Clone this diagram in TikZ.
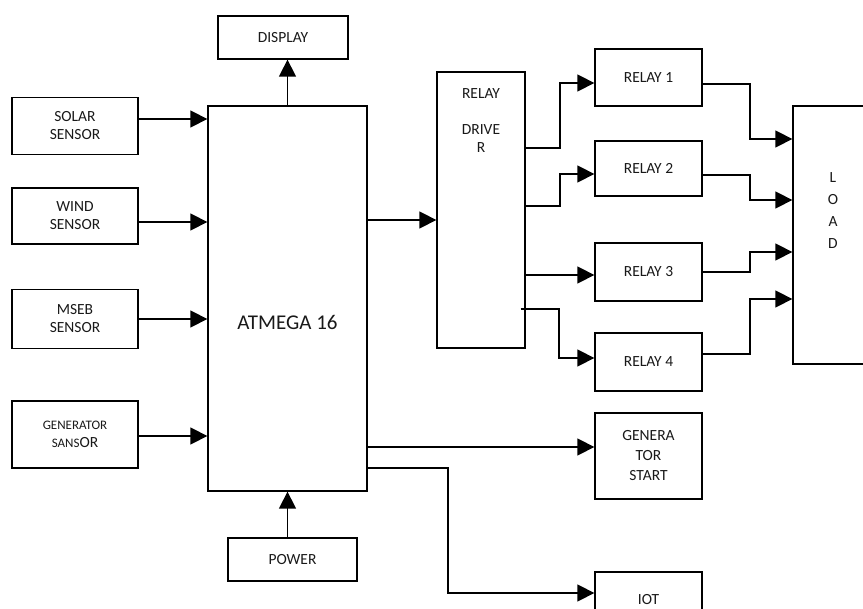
\documentclass[tikz,border=0pt]{standalone}
\usepackage{fontspec}
\setmainfont{Carlito}
\usepackage{tikz}
\usetikzlibrary{arrows.meta,positioning}
\newcommand{\blkfont}{\fontsize{15.5}{18}\selectfont}
\newcommand{\tinyblk}{\fontsize{13}{15}\selectfont}

\begin{document}
\begin{tikzpicture}[x=1pt, y=-1pt,
  blk/.style={draw, line width=1.3pt, align=center, font=\blkfont, inner sep=2pt, text=black!90},
  sens/.style={blk, minimum width=126pt, minimum height=57pt},
  rly/.style={blk, minimum width=107pt, minimum height=57pt},
  ar/.style={-{Triangle[length=17pt,width=17pt]}, line width=1.4pt}]
  \useasboundingbox (0,0) rectangle (863,609);
  % input sensors
  \node[sens] (solar) at (75,126) {SOLAR\\SENSOR};
  \node[sens, minimum height=56pt] (wind) at (75,216) {WIND\\SENSOR};
  \node[sens, minimum height=59pt] (mseb) at (75,319) {MSEB\\SENSOR};
  \node[sens, minimum height=67pt] (gens) at (75,434.5) {{\tinyblk GENERATOR}\\{\tinyblk SANS}OR};
  % controller
  \node[blk, minimum width=159pt, minimum height=385pt,
    label={[yshift=-24pt, font=\fontsize{21}{24}\selectfont, text=black!90]center:ATMEGA 16}] (atm) at (287.5,298.5) {};
  \node[blk, minimum width=130pt, minimum height=43pt] (disp) at (283,37.5) {DISPLAY};
  \node[blk, minimum width=129pt, minimum height=43pt] (pow) at (292.5,559.5) {POWER};
  % relay stage
  \node[blk, minimum width=88pt, minimum height=276pt,
    label={[anchor=north, yshift=-14pt, align=center, font=\blkfont, text=black!90]north:RELAY\\[18pt]DRIVE\\R}] (drv) at (481,210) {};
  \node[rly] (r1) at (648.5,77.5) {RELAY 1};
  \node[rly, minimum height=55pt] (r2) at (648.5,168.5) {RELAY 2};
  \node[rly, minimum height=58pt] (r3) at (648.5,272) {RELAY 3};
  \node[rly, minimum height=58pt] (r4) at (648.5,362) {RELAY 4};
  \node[blk, minimum width=100pt, minimum height=258pt,
    label={[xshift=-10pt, yshift=24pt, align=center, font=\blkfont, text=black!90]center:L\\[4pt]O\\[4pt]A\\[4pt]D}] (load) at (843,235) {};
  \node[rly, minimum height=86pt, font=\fontsize{15.5}{20}\selectfont] (gst) at (648.5,456) {GENERA\\TOR\\START};
  \node[rly, minimum height=56pt] (iot) at (648.5,600) {IOT};
  % connections
  \draw[ar] (solar.east |- 0,119) -- (atm.west |- 0,119);
  \draw[ar] (wind.east |- 0,222) -- (atm.west |- 0,222);
  \draw[ar] (mseb.east |- 0,319) -- (atm.west |- 0,319);
  \draw[ar] (gens.east |- 0,436) -- (atm.west |- 0,436);
  \draw[ar] (atm.north) -- (atm.north |- disp.south);
  \draw[ar] (pow.north -| atm.south) -- (atm.south);
  \draw[ar] (atm.east |- 0,220) -- (drv.west |- 0,220);
  \draw[ar] (drv.east |- 0,148) -- (560,148) |- (r1.west |- 0,83);
  \draw[ar] (drv.east |- 0,206) -- (560,206) |- (r2.west |- 0,174);
  \draw[ar] (drv.east |- 0,275) -- (r3.west |- 0,275);
  \draw[ar] ([xshift=-5pt]drv.east |- 0,309) -- (559,309) |- (r4.west |- 0,358);
  \draw[ar] (r1.east |- 0,84) -- (750,84) |- (load.west |- 0,139);
  \draw[ar] (r2.east |- 0,175) -- (750,175) |- (load.west |- 0,200);
  \draw[ar] (r3.east |- 0,272) -- (750,272) |- (load.west |- 0,252);
  \draw[ar] (r4.east |- 0,354) -- (750,354) |- (load.west |- 0,299);
  \draw[ar] (atm.east |- 0,447) -- (gst.west |- 0,447);
  \draw[ar] (atm.east |- 0,468) -- (448,468) |- (iot.west |- 0,593);
\end{tikzpicture}
\end{document}
